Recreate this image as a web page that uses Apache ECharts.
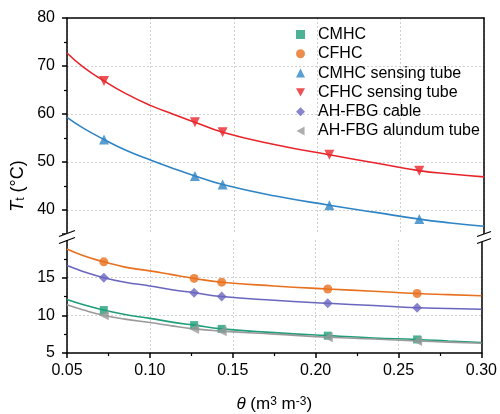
<!DOCTYPE html>
<html>
<head>
<meta charset="utf-8">
<script src="https://cdn.jsdelivr.net/npm/echarts@6/dist/echarts.min.js"></script>
<style>html,body{margin:0;padding:0;background:#fff}#c{width:500px;height:414px}</style>
</head>
<body>
<div id="c"></div>
<script>
// ---- data ----
const seriesNames = ['CMHC', 'CFHC', 'CMHC sensing tube', 'CFHC sensing tube', 'AH-FBG cable', 'AH-FBG alundum tube'];
const thetaPts = [0.0722, 0.1267, 0.1433, 0.2073, 0.2612];
const cmhcPts = [10.7, 8.7, 8.2, 7.3, 6.8];
const cfhcPts = [17.1, 14.9, 14.4, 13.5, 12.9];
const cmhcTubePts = [54.7, 47.1, 45.3, 41.0, 38.1];
const cfhcTubePts = [66.9, 58.3, 56.2, 51.5, 48.2];
const cablePts = [15.0, 13.0, 12.5, 11.6, 11.0];
const alundumPts = [10.0, 8.2, 7.9, 7.1, 6.6];
// fitted curves
const curveTheta = [0.05, 0.06, 0.0722, 0.085, 0.10, 0.1133, 0.1267, 0.1433, 0.175, 0.2073, 0.235, 0.2612, 0.28, 0.30];
const cmhcCurve = [12.1, 11.4, 10.7, 10.1, 9.6, 9.1, 8.7, 8.2, 7.7, 7.3, 7.0, 6.8, 6.6, 6.4];
const cfhcCurve = [18.8, 17.9, 17.1, 16.4, 15.9, 15.4, 14.9, 14.4, 13.9, 13.5, 13.2, 12.9, 12.75, 12.6];
const cmhcTubeCurve = [59.3, 57.0, 54.7, 52.5, 50.4, 48.7, 47.1, 45.3, 42.9, 41.0, 39.5, 38.1, 37.3, 36.6];
const cfhcTubeCurve = [72.7, 69.7, 66.9, 64.3, 61.8, 60.0, 58.3, 56.2, 53.6, 51.5, 49.8, 48.2, 47.5, 46.9];
const cableCurve = [16.6, 15.8, 15.0, 14.4, 13.9, 13.4, 13.0, 12.5, 12.0, 11.6, 11.3, 11.0, 10.9, 10.8];
const alundumCurve = [11.4, 10.7, 10.0, 9.5, 9.05, 8.6, 8.2, 7.9, 7.5, 7.1, 6.85, 6.6, 6.45, 6.3];

const colors = ['#1f9e7a', '#e8711f', '#2f84c6', '#e8242b', '#6a66bf', '#9a9a9a'];
const symbols = ['rect', 'circle', 'triangle', 'path://M0,0 L10,0 L5,9 Z', 'diamond', 'path://M9,0 L9,10 L0,5 Z'];
const symSizes = [8, 9, 10, 10, 10, 10];
const ptsList = [cmhcPts, cfhcPts, cmhcTubePts, cfhcTubePts, cablePts, alundumPts];
const curveList = [cmhcCurve, cfhcCurve, cmhcTubeCurve, cfhcTubeCurve, cableCurve, alundumCurve];
const gridIdx = [1, 1, 0, 0, 1, 1];

const FONT = 'Liberation Sans, Arial, sans-serif';
const gridLine = { show: true, lineStyle: { color: '#cfcfcf', type: [2, 2], width: 1 } };
const axisBlack = { show: true, lineStyle: { color: '#000', width: 1.5 } };

const series = [];
for (let i = 0; i < seriesNames.length; i++) {
  series.push({
    name: seriesNames[i] + ' fit', type: 'line', xAxisIndex: gridIdx[i], yAxisIndex: gridIdx[i] * 2,
    data: curveTheta.map((x, k) => [x, curveList[i][k]]),
    showSymbol: false, smooth: 0.5,
    lineStyle: { color: colors[i], width: 1.6 }, z: 2, silent: true
  });
}
for (let i = 0; i < seriesNames.length; i++) {
  series.push({
    name: seriesNames[i], type: 'scatter', xAxisIndex: gridIdx[i], yAxisIndex: gridIdx[i] * 2,
    data: thetaPts.map((x, k) => [x, ptsList[i][k]]),
    symbol: symbols[i], symbolSize: symSizes[i],
    itemStyle: { color: colors[i] }, z: 3
  });
}

const chart = echarts.init(document.getElementById('c'), null, { renderer: 'canvas' });
const fmt2 = v => v.toFixed(2);
const tickStyle = { show: true, inside: false, length: 5, lineStyle: { color: '#000', width: 1.5 } };
const minorStyle = { show: true, splitNumber: 2, length: 3, lineStyle: { color: '#000', width: 1.2 } };
chart.setOption({
  animation: false,
  textStyle: { fontFamily: FONT },
  grid: [
    { left: 67, right: 16, top: 18, height: 216 },
    { left: 67, right: 16, top: 240, height: 114 }
  ],
  xAxis: [
    { gridIndex: 0, type: 'value', position: 'top', min: 0.05, max: 0.30, interval: 0.05,
      axisLine: axisBlack, axisTick: { show: false }, axisLabel: { show: false },
      splitLine: gridLine },
    { gridIndex: 1, type: 'value', position: 'bottom', min: 0.05, max: 0.30, interval: 0.05,
      axisLine: axisBlack, axisTick: tickStyle, minorTick: minorStyle,
      axisLabel: { fontSize: 16, color: '#000', margin: 10, fontFamily: FONT, formatter: fmt2 },
      splitLine: gridLine,
      name: '{i|θ} (m{sup|3} m{sup|-3})', nameLocation: 'middle', nameGap: 43,
      nameTextStyle: { fontSize: 17, color: '#000', fontFamily: FONT,
        rich: { i: { fontStyle: 'italic', fontSize: 17, fontFamily: FONT },
                sup: { fontSize: 12, verticalAlign: 'top', fontFamily: FONT } } } }
  ],
  yAxis: [
    { gridIndex: 0, type: 'value', min: 35, max: 80, splitNumber: 5,
      axisLine: axisBlack, axisTick: tickStyle, minorTick: minorStyle,
      axisLabel: { fontSize: 16, color: '#000', margin: 12, fontFamily: FONT, showMinLabel: false },
      splitLine: Object.assign({ showMinLine: false, showMaxLine: false }, gridLine) },
    { gridIndex: 0, type: 'value', position: 'right', min: 35, max: 80,
      axisLine: axisBlack, axisTick: { show: false }, axisLabel: { show: false }, splitLine: { show: false } },
    { gridIndex: 1, type: 'value', min: 5, max: 20, interval: 5,
      axisLine: axisBlack, axisTick: tickStyle, minorTick: minorStyle,
      axisLabel: { fontSize: 16, color: '#000', margin: 12, fontFamily: FONT, showMaxLabel: false },
      splitLine: Object.assign({ showMinLine: false, showMaxLine: false }, gridLine) },
    { gridIndex: 1, type: 'value', position: 'right', min: 5, max: 20,
      axisLine: axisBlack, axisTick: { show: false }, axisLabel: { show: false }, splitLine: { show: false } }
  ],
  legend: {
    data: seriesNames, orient: 'vertical', left: 291, top: 21.5,
    itemWidth: 9, itemHeight: 9, itemGap: 3.3,
    textStyle: { fontSize: 16, color: '#000', fontFamily: FONT, lineHeight: 16, padding: [0, 0, 0, 8] }
  },
  graphic: [
    // axis break marks (left and right)
    { type: 'polygon', shape: { points: [[59, 236.5], [71, 231.5], [71, 238.5], [59, 243.5]] }, style: { fill: '#fff' }, z: 100 },
    { type: 'line', shape: { x1: 59, y1: 236.5, x2: 75, y2: 230.5 }, style: { stroke: '#000', lineWidth: 1.3 }, z: 101 },
    { type: 'line', shape: { x1: 59, y1: 243.5, x2: 75, y2: 237.5 }, style: { stroke: '#000', lineWidth: 1.3 }, z: 101 },
    { type: 'polygon', shape: { points: [[477, 236.5], [490, 231.5], [490, 238.5], [477, 243.5]] }, style: { fill: '#fff' }, z: 100 },
    { type: 'line', shape: { x1: 477, y1: 236.5, x2: 491, y2: 231.5 }, style: { stroke: '#000', lineWidth: 1.3 }, z: 101 },
    { type: 'line', shape: { x1: 477, y1: 243.5, x2: 491, y2: 238.5 }, style: { stroke: '#000', lineWidth: 1.3 }, z: 101 },
    // y axis title
    { type: 'text', x: 18, y: 186, rotation: Math.PI / 2,
      style: { text: '{i|T}{s|t} (°C)', fill: '#000', fontSize: 18, fontFamily: FONT,
        align: 'center', verticalAlign: 'middle',
        rich: { i: { fontStyle: 'italic', fontSize: 18, fontFamily: FONT, fill: '#000' },
                s: { fontSize: 12, verticalAlign: 'bottom', fontFamily: FONT, fill: '#000' } } } }
  ],
  series: series
});
</script>
</body>
</html>
